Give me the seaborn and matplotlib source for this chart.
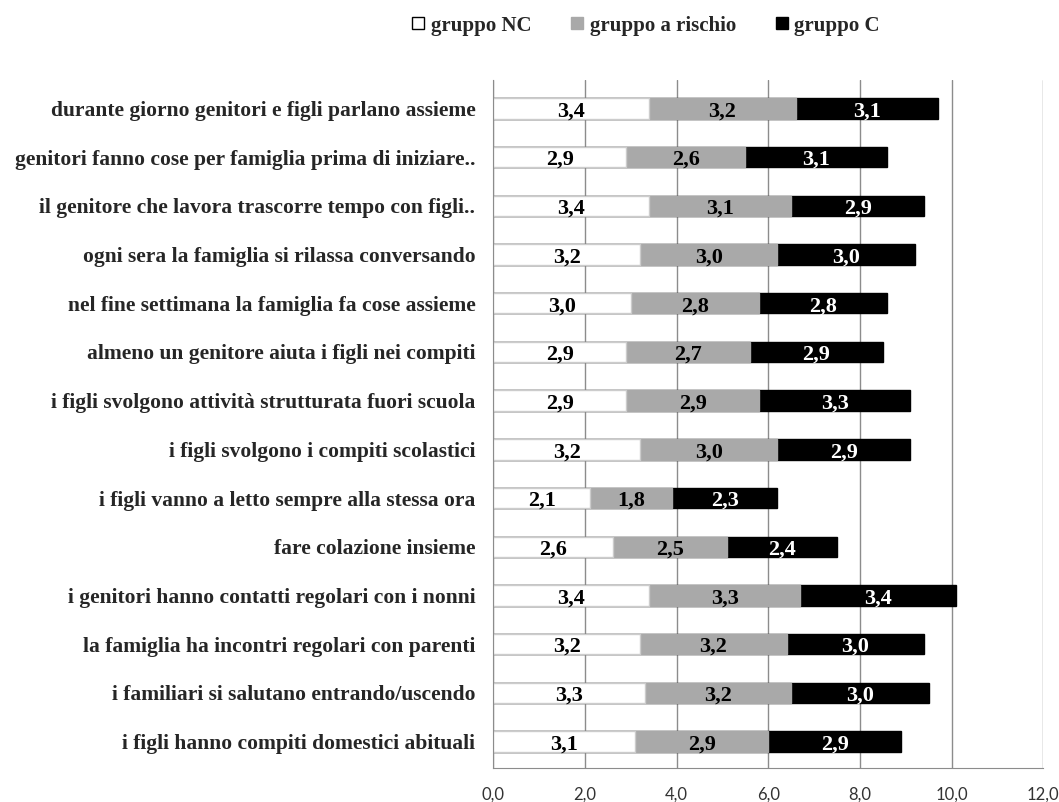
import numpy as np
import pandas as pd
import matplotlib
matplotlib.use('Agg')
import matplotlib.pyplot as plt
import seaborn as sns
from matplotlib.lines import Line2D
from matplotlib.ticker import FuncFormatter, MultipleLocator

categories = [
    'durante giorno genitori e figli parlano assieme',
    'genitori fanno cose per famiglia prima di iniziare..',
    'il genitore che lavora trascorre tempo con figli..',
    'ogni sera la famiglia si rilassa conversando',
    'nel fine settimana la famiglia fa cose assieme',
    'almeno un genitore aiuta i figli nei compiti',
    'i figli svolgono attività strutturata fuori scuola',
    'i figli svolgono i compiti scolastici',
    'i figli vanno a letto sempre alla stessa ora',
    'fare colazione insieme',
    'i genitori hanno contatti regolari con i nonni',
    'la famiglia ha incontri regolari con parenti',
    'i familiari si salutano entrando/uscendo',
    'i figli hanno compiti domestici abituali',
]
gruppo_nc = [3.4, 2.9, 3.4, 3.2, 3.0, 2.9, 2.9, 3.2, 2.1, 2.6, 3.4, 3.2, 3.3, 3.1]
gruppo_rischio = [3.2, 2.6, 3.1, 3.0, 2.8, 2.7, 2.9, 3.0, 1.8, 2.5, 3.3, 3.2, 3.2, 2.9]
gruppo_c = [3.1, 3.1, 2.9, 3.0, 2.8, 2.9, 3.3, 2.9, 2.3, 2.4, 3.4, 3.0, 3.0, 2.9]
series_names = ['gruppo NC', 'gruppo a rischio', 'gruppo C']

sns.set_style('white')
plt.rcParams['font.family'] = ['Liberation Serif', 'DejaVu Serif']

df = pd.DataFrame({'cat': categories, 'nc': gruppo_nc,
                   'rischio': gruppo_rischio, 'c': gruppo_c})
df['cum1'] = df['nc']
df['cum2'] = df['nc'] + df['rischio']
df['cum3'] = df['cum2'] + df['c']

fig = plt.figure(figsize=(10.59, 8.02), dpi=100)
ax = fig.add_axes([0.466, 0.042, 0.519, 0.858])

#Draw stacked bars back to front
bw = 0.42
sns.barplot(data=df, x='cum3', y='cat', color='black', width=bw, ax=ax,
            orient='h', saturation=1, edgecolor='black')
sns.barplot(data=df, x='cum2', y='cat', color='#a9a9a9', width=bw, ax=ax,
            orient='h', saturation=1, edgecolor='#a9a9a9')
sns.barplot(data=df, x='cum1', y='cat', color='white', width=bw, ax=ax,
            orient='h', saturation=1, edgecolor='#cccccc', linewidth=1)

#Value labels
for i, row in df.iterrows():
    segs = [(0, row['nc'], 'black'), (row['cum1'], row['rischio'], 'black'),
            (row['cum2'], row['c'], 'white')]
    for left, v, col in segs:
        ax.text(left + v / 2, i + 0.06, f'{v:.1f}'.replace('.', ','),
                ha='center', va='center', fontsize=16, fontweight='bold',
                color=col)

ax.set_xlim(0, 12)
ax.set_ylim(13.55, -0.58)
ax.xaxis.set_major_locator(MultipleLocator(2))
ax.xaxis.set_major_formatter(FuncFormatter(lambda x, p: f'{x:.1f}'.replace('.', ',')))
ax.grid(axis='x', color='#8c8c8c', linewidth=1)
ax.set_axisbelow(True)
ax.set_xlabel('')
ax.set_ylabel('')
for s in ['top', 'right']:
    ax.spines[s].set_visible(False)
ax.spines['left'].set_color('#8c8c8c')
ax.spines['bottom'].set_color('#8c8c8c')
ax.tick_params(axis='x', length=5, color='#8c8c8c', pad=8)
for lbl in ax.get_xticklabels():
    lbl.set_family(['Lato', 'DejaVu Sans'])
    lbl.set_fontsize(12)
    lbl.set_color('#333333')
ax.tick_params(axis='y', length=0, pad=13)
ax.set_yticks(range(len(categories)))
ax.set_yticklabels(categories, fontsize=15.5, fontweight='bold')
ax.set_yticks(np.arange(-0.5, len(categories), 1), minor=True)
ax.tick_params(axis='y', which='minor', length=5, color='#8c8c8c')

#Legend
handles = [
    Line2D([], [], marker='s', linestyle='', markersize=9, markerfacecolor='white',
           markeredgecolor='black'),
    Line2D([], [], marker='s', linestyle='', markersize=9, markerfacecolor='#a9a9a9',
           markeredgecolor='#a9a9a9'),
    Line2D([], [], marker='s', linestyle='', markersize=9, markerfacecolor='black',
           markeredgecolor='black'),
]
fig.legend(handles, series_names, loc='center', bbox_to_anchor=(0.607, 0.968),
           ncol=3, frameon=False, handletextpad=0.0, columnspacing=1.6,
           handlelength=1.2, prop={'size': 15, 'weight': 'bold'})

plt.savefig('out.png', dpi=100)
plt.close()
